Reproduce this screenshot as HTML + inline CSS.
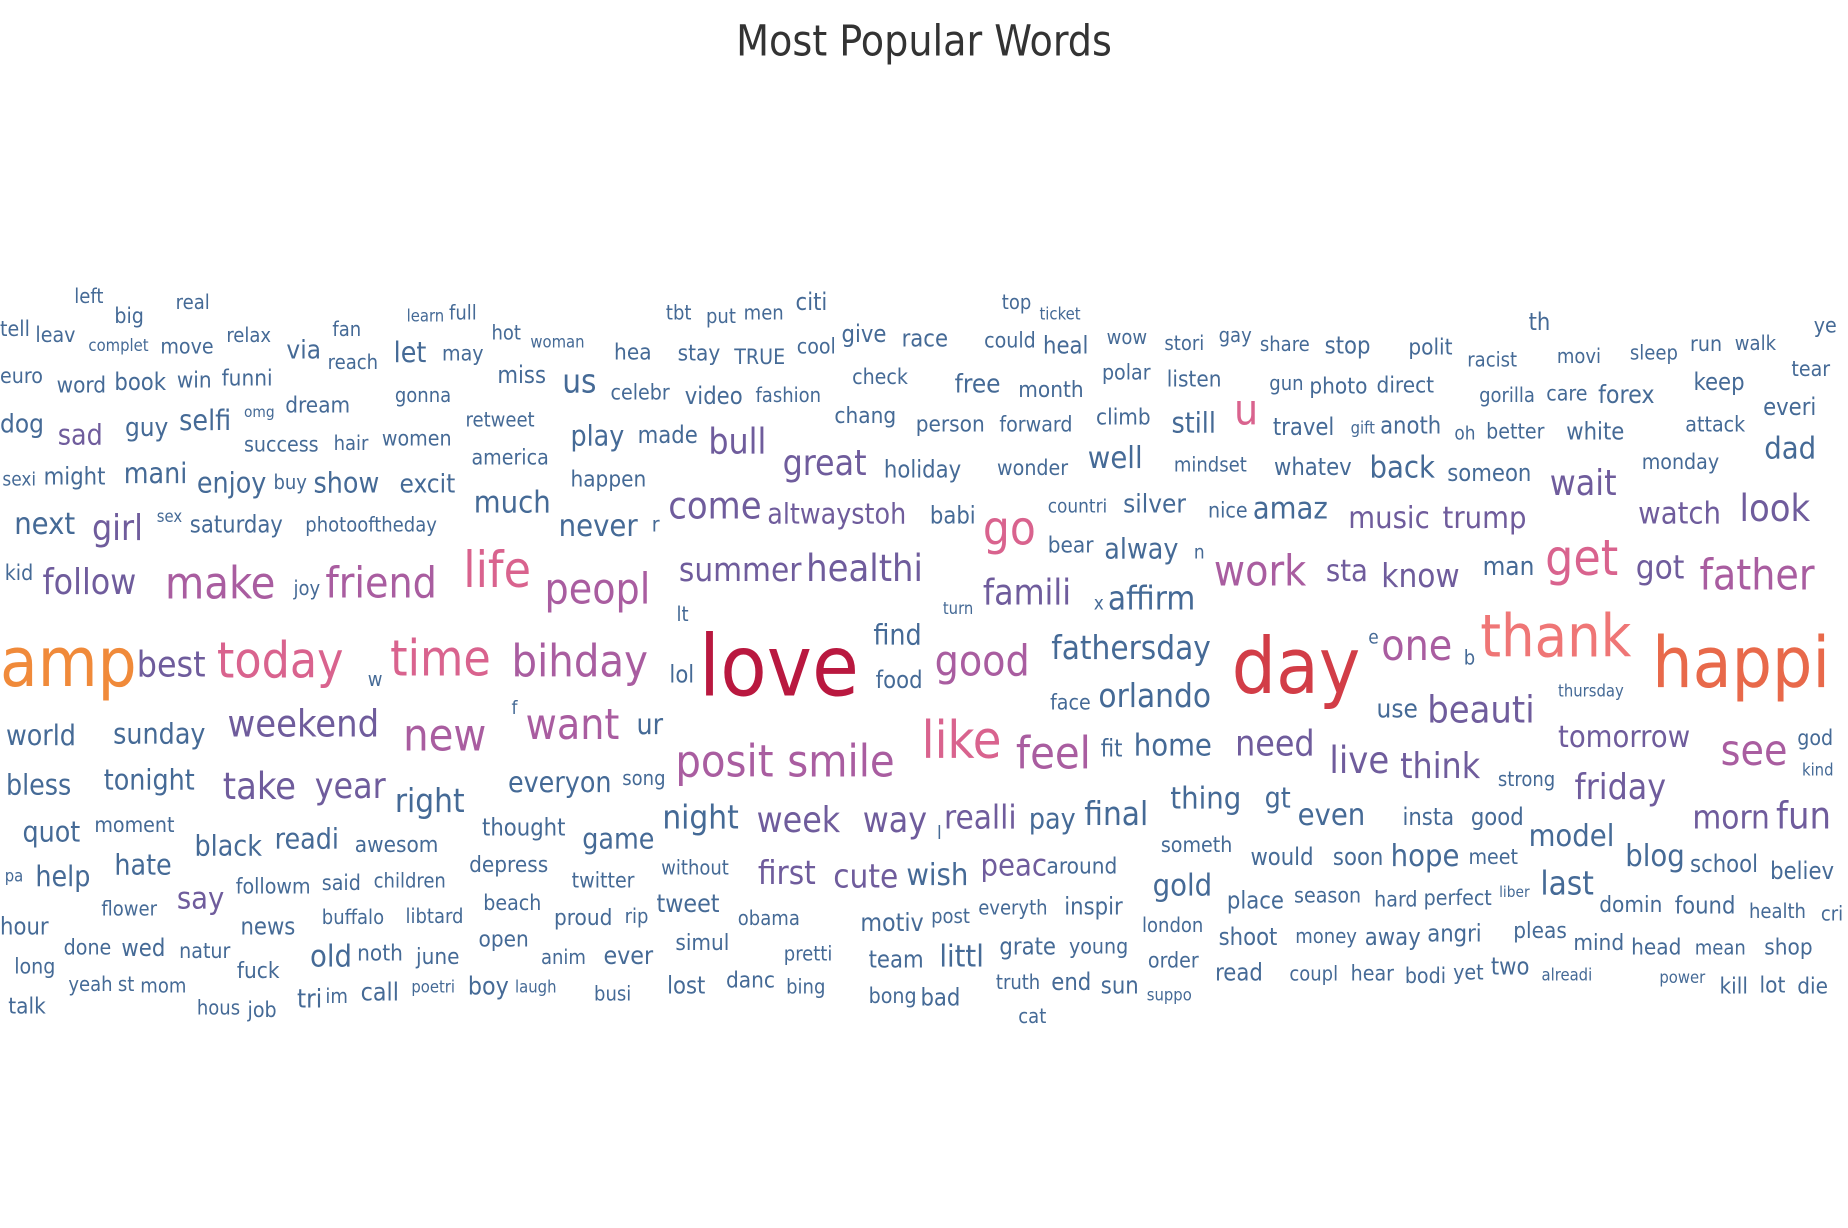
<!DOCTYPE html>
<html><head><meta charset="utf-8">
<style>
html,body{margin:0;padding:0;background:#fff;width:1848px;height:1228px;overflow:hidden}
svg text{font-family:"DejaVu Sans Condensed","DejaVu Sans","Liberation Sans",sans-serif}
</style></head>
<body>
<svg id="cloud" width="1848" height="1228" viewBox="0 0 1568 1042">
<text x="784" y="47" text-anchor="middle" font-size="36" fill="#333">Most Popular Words</text>
<g id="words"></g>
</svg>
<script>
// word, font size (proportional to frequency), colour class
const words = ["left","big","real","tell","leav","complet","move","relax","via","fan","reach","learn","full","let","may","hot","woman","hea","tbt","put","men","citi","stay","TRUE","cool","give","race","top","ticket","could","heal","wow","stori","gay","share","stop","polit","th","racist","movi","sleep","run","walk","ye","tear",
"euro","word","book","win","funni","gonna","miss","us","celebr","video","fashion","check","free","month","polar","listen","gun","photo","direct","gorilla","care","forex","keep","everi",
"dog","sad","guy","selfi","omg","dream","retweet","chang","person","forward","climb","still","u","travel","gift","anoth","oh","better","white","attack","dad",
"success","hair","women","america","play","made","bull","great","holiday","wonder","well","mindset","whatev","back","someon","monday","wait",
"sexi","might","mani","enjoy","buy","show","excit","happen","much",
"next","girl","sex","saturday","photooftheday","never","r","come","altwaystoh","babi","countri","silver","nice","amaz","music","trump","watch","look","go","bear","alway","n",
"kid","follow","make","joy","friend","life","peopl","summer","healthi","famili","x","affirm","work","sta","know","man","get","got","father","lt","turn",
"amp","best","today","w","time","bihday","lol","love","find","food","good","fathersday","face","orlando","day","e","one","b","thank","happi","thursday",
"world","sunday","weekend","f","new","want","ur","posit","smile","like","feel","fit","home","need","use","beauti","tomorrow","see","god","kind",
"bless","tonight","take","year","right","everyon","song","live","think","strong","friday",
"quot","moment","black","readi","awesom","thought","game","night","week","way","l","realli","pay","final","thing","gt","even","insta","good","model","morn","fun",
"someth","would","soon","hope","meet","blog","school","believ",
"pa","help","hate","depress","followm","said","children","twitter","without","first","cute","wish","peac","around","gold","place","season","hard","perfect","liber","last","domin","found","health","cri",
"say","flower","beach","proud","rip","tweet","obama","motiv","post","everyth","inspir",
"hour","news","buffalo","libtard","done","wed","natur","old","noth","june","open","anim","ever","simul","pretti","london","shoot","money","away","angri","pleas","mind","head","mean","shop",
"long","yeah","st","mom","fuck","team","littl","grate","young","order","read","coupl","hear","bodi","yet","two","alreadi","power","kill","lot","die",
"talk","hous","job","tri","im","call","poetri","boy","laugh","busi","lost","danc","bing","bong","bad","truth","end","sun","suppo","cat"];
const sizes = [17,18,17,18,18,14,18,17,22,17,17,14,17,24,18,17,14,19,17,17,17,20,19,18,18,20,20,17,14,18,20,17,17,17,17,20,19,20,17,17,17,18,17,18,18,
18,19,20,19,19,17,20,28,18,20,17,18,22,19,18,19,17,19,19,17,18,21,20,20,
22,24,22,24,13,19,17,19,19,18,19,24,36,20,14,20,16,18,20,18,26,
18,17,18,18,24,20,30,30,20,18,26,17,20,26,20,18,30,
16,20,24,24,17,24,22,19,26,
26,30,14,20,17,26,18,32,24,20,16,22,18,26,26,26,26,32,40,19,24,16,
18,30,38,17,36,42,36,28,32,30,16,28,36,26,28,22,42,28,36,17,14,
58,30,42,17,42,38,20,72,24,20,36,28,18,28,66,16,36,17,50,60,14,
24,24,32,16,38,36,24,38,38,44,38,20,26,30,22,32,26,36,18,14,
24,24,32,30,28,24,17,32,30,17,30,
24,18,24,24,19,20,24,28,30,30,16,28,24,28,26,24,26,20,20,26,28,32,
18,20,20,26,18,26,20,20,
14,24,24,19,18,18,17,18,17,28,28,26,26,19,26,20,18,18,18,13,28,19,20,17,17,
26,17,18,19,17,21,17,21,17,17,20,
20,20,17,17,18,20,18,26,19,19,19,17,21,19,17,17,20,17,20,20,19,19,19,17,19,
18,17,17,17,19,20,26,20,18,18,20,17,18,18,18,20,14,14,19,19,19,
19,17,18,22,17,21,14,21,14,17,20,19,17,18,20,17,20,20,14,17];
const tones = {
 p:["bull","great","wait","girl","come","altwaystoh","music","trump","watch","look","follow","summer","healthi","famili","sta","know","got","best","weekend","beauti","tomorrow","take","year","need","live","think","friday","week","way","realli","morn","fun","first","cute","peac","sad","say"],
 m:["make","friend","peopl","bihday","good","new","want","posit","smile","feel","see","one","work","father"],
 k:["go","life","today","time","like","get","u"],
 r:["love"], d:["day"], s:["thank"], o:["amp"], h:["happi"]
};
// layout positions produced by the cloud layout (left x, baseline y)
const layout = [[63,257],[97,274],[149,262],[0,285],[30,290],[75,298],[136,300],[192,290],[243,304],[282,285],[278,313],[345,273],[381,271],[334,307],[375,306],[417,288],[450,295],[521,305],[565,271],[599,274],[631,271],[675,263],[575,306],[623,309],[676,300],[714,290],[765,294],[850,262],[882,271],[835,295],[885,300],[939,292],[988,297],[1034,290],[1069,298],[1124,300],[1195,301],[1297,280],[1245,311],[1321,308],[1383,305],[1434,298],[1472,297],[1539,282],[1520,319],
[0,325],[48,333],[97,331],[150,329],[188,327],[335,341],[422,325],[477,333],[518,339],[581,343],[641,341],[723,326],[810,333],[864,337],[935,322],[990,328],[1077,331],[1111,334],[1168,333],[1255,341],[1312,340],[1356,342],[1437,331],[1496,352],
[0,367],[49,377],[106,370],[152,365],[207,354],[242,350],[395,362],[708,359],[777,366],[848,366],[930,360],[994,367],[1047,360],[1080,369],[1146,368],[1171,368],[1234,373],[1261,372],[1329,373],[1430,366],[1497,389],
[207,383],[283,382],[324,378],[400,394],[484,378],[541,376],[601,385],[664,403],[750,405],[846,403],[923,397],[996,400],[1081,403],[1162,405],[1228,408],[1393,398],[1315,420],
[2,412],[37,411],[105,410],[167,418],[232,415],[266,418],[339,418],[484,413],[402,435],
[12,453],[78,458],[133,443],[161,452],[259,451],[474,455],[553,451],[567,440],[651,444],[789,444],[889,435],[953,435],[1025,439],[1063,440],[1144,448],[1224,448],[1390,444],[1476,442],[834,462],[889,469],[937,474],[1013,474],
[4,492],[36,504],[140,508],[249,505],[276,507],[393,498],[462,512],[576,493],[684,493],[834,513],[928,517],[940,517],[1030,497],[1125,493],[1172,498],[1258,488],[1311,488],[1388,491],[1442,500],[574,527],[800,521],
[0,582],[116,574],[184,575],[312,582],[331,573],[434,574],[568,579],[593,590],[741,547],[743,584],[793,573],[892,559],[891,602],[932,600],[1045,588],[1161,546],[1172,560],[1242,564],[1256,557],[1402,583],[1322,591],
[5,632],[96,631],[193,625],[434,606],[342,637],[446,627],[540,623],[573,659],[668,659],[782,643],[862,652],[934,642],[962,641],[1048,641],[1168,609],[1211,613],[1322,634],[1460,649],[1525,632],[1529,658],
[5,674],[88,670],[189,678],[267,677],[335,689],[431,672],[528,666],[1128,656],[1188,660],[1271,667],[1336,678],
[19,714],[80,706],[165,726],[233,720],[301,723],[409,709],[494,720],[562,703],[642,706],[732,706],[795,712],[801,703],[873,703],[920,700],[993,686],[1073,685],[1101,700],[1190,700],[1248,700],[1297,718],[1436,703],[1507,703],
[985,723],[1061,734],[1131,734],[1180,735],[1246,733],[1379,735],[1434,740],[1502,746],
[4,748],[30,752],[97,742],[398,740],[200,758],[273,755],[317,753],[485,753],[561,742],[643,750],[707,753],[769,751],[832,743],[888,741],[978,760],[1041,771],[1098,766],[1166,769],[1208,768],[1272,761],[1307,759],[1357,774],[1421,775],[1484,779],[1545,781],
[150,771],[86,777],[410,772],[470,785],[530,783],[557,774],[626,785],[730,790],[790,783],[830,776],[903,776],
[0,793],[204,793],[273,784],[344,783],[54,810],[103,811],[152,813],[263,820],[303,815],[353,818],[406,803],[459,818],[512,818],[573,806],[665,815],[969,791],[1034,802],[1099,800],[1158,802],[1211,799],[1284,796],[1335,806],[1384,810],[1438,810],[1497,810],
[12,826],[58,841],[100,841],[119,842],[201,830],[737,821],[797,820],[848,810],[907,809],[974,821],[1031,832],[1094,832],[1146,832],[1192,834],[1233,831],[1265,827],[1308,832],[1408,834],[1459,843],[1493,842],[1525,843],
[7,860],[167,861],[210,863],[252,855],[276,851],[306,849],[349,842],[397,844],[437,842],[504,849],[566,843],[616,838],[667,843],[737,851],[781,853],[845,839],[892,840],[934,843],[973,849],[864,868]];
const palette = {b:"#456a96",p:"#6f5c9c",m:"#a95da0",k:"#d9638e",r:"#b9183f",d:"#d23d47",s:"#ef7676",o:"#f08a3a",h:"#e8694a"};
function toneOf(i){
  for (const t in tones){ if (tones[t].includes(words[i]) && !(words[i]==="good" && i>220)) return t; }
  return "b";
}
const g = document.getElementById('words');
const NS = "http://www.w3.org/2000/svg";
for (let i = 0; i < words.length; i++) {
  const t = document.createElementNS(NS, 'text');
  t.setAttribute('x', layout[i][0]);
  t.setAttribute('y', layout[i][1]);
  t.setAttribute('font-size', sizes[i]);
  t.setAttribute('fill', palette[toneOf(i)]);
  
  
  t.textContent = words[i];
  g.appendChild(t);
}
</script>
</body></html>
